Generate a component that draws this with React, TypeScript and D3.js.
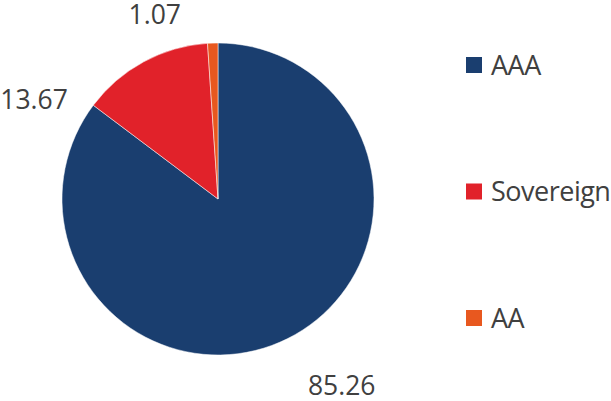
import React from "react";
import * as d3 from "d3";

const categories = ["AAA", "Sovereign", "AA"];
const values = [85.26, 13.67, 1.07];
const labels = ["85.26", "13.67", "1.07"];
const colors = ["#1a3e6f", "#e1222a", "#e8581f"];

// label placement (layout only): angle shift in degrees and radius beyond pie
const labelShift = [-7, -33.2, -17];
const labelExtra = [68, 53, 39];

const W = 611;
const H = 401;
const cx = 218;
const cy = 199;
const r = 156;
const font = "'Open Sans', 'Segoe UI', sans-serif";

export default function App() {
  const pie = d3.pie<number>().sort(null).value((d) => d)(values);
  const arc = d3.arc<d3.PieArcDatum<number>>().innerRadius(0).outerRadius(r);
  const legendY = d3.scalePoint<string>().domain(categories).range([65, 318]);

  return (
    <svg width={W} height={H} style={{ position: "absolute", left: 0, top: 0, background: "#fff" }}>
      <g transform={`translate(${cx},${cy})`}>
        {pie.map((p, i) => (
          <path key={i} d={arc(p) || ""} fill={colors[i]} stroke="#ffffff" strokeWidth={0.5} />
        ))}
        {pie.map((p, i) => {
          const mid = (p.startAngle + p.endAngle) / 2 + (labelShift[i] * Math.PI) / 180;
          const R = r + labelExtra[i];
          return (
            <text
              key={"l" + i}
              x={R * Math.sin(mid)}
              y={-R * Math.cos(mid)}
              dy="0.36em"
              textAnchor="middle"
              fontFamily={font}
              fontSize={26.5}
              fill="#404040"
            >
              {labels[i]}
            </text>
          );
        })}
      </g>
      {categories.map((c, i) => {
        const y = legendY(c) as number;
        return (
          <g key={c}>
            <rect x={466} y={y - 8} width={16} height={16} fill={colors[i]} />
            <text
              x={491}
              y={y}
              dy="0.36em"
              fontFamily={font}
              fontSize={27}
              letterSpacing={-0.5}
              fill="#404040"
            >
              {c}
            </text>
          </g>
        );
      })}
    </svg>
  );
}
